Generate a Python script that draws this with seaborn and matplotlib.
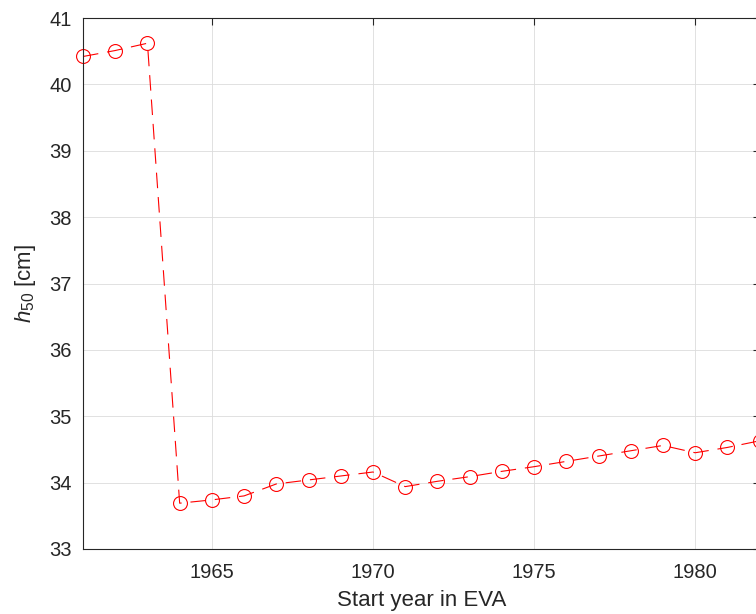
import matplotlib
matplotlib.use('Agg')
import matplotlib.pyplot as plt
import seaborn as sns
import pandas as pd

# Values
years = list(range(1961, 1983))
h50 = [40.42, 40.51, 40.62, 33.69, 33.74, 33.80, 33.98, 34.04, 34.10, 34.16,
       33.94, 34.02, 34.09, 34.17, 34.24, 34.32, 34.40, 34.48, 34.56, 34.45,
       34.53, 34.63]
x_ticks = [1965, 1970, 1975, 1980]
y_ticks = list(range(33, 42))

df = pd.DataFrame({'year': years, 'h50': h50})

sns.set_style('white')
plt.rcParams['font.family'] = ['Liberation Sans', 'DejaVu Sans']
plt.rcParams['mathtext.fontset'] = 'custom'
plt.rcParams['mathtext.rm'] = 'Liberation Sans'
plt.rcParams['mathtext.it'] = 'Liberation Sans:italic'

fig = plt.figure(figsize=(7.56, 6.14), dpi=100)
ax = fig.add_axes([83 / 756, 65 / 614, (759.6 - 83) / 756, (549 - 18) / 614])

sns.lineplot(data=df, x='year', y='h50', ax=ax, color='red', marker='o',
             markersize=10, markerfacecolor='none', markeredgecolor='red',
             markeredgewidth=0.8, linewidth=0.8, linestyle='--', clip_on=False)
ax.lines[0].set_dashes([14, 8])

ax.set_xlim(1961, 1982)
ax.set_ylim(33, 41)
ax.set_xticks(x_ticks)
ax.set_yticks(y_ticks)
ax.grid(True, color='#dcdcdc', linewidth=0.6)
ax.set_axisbelow(True)

for s in ax.spines.values():
    s.set_visible(True)
    s.set_color('#262626')
    s.set_linewidth(0.8)
ax.tick_params(direction='in', length=5, width=0.8, colors='#262626',
               labelsize=14.5, top=True, right=True, labelcolor='#262626')
ax.tick_params(axis='x', pad=10)
ax.tick_params(axis='y', pad=8)

ax.set_xlabel('Start year in EVA', fontsize=16, color='#262626', labelpad=6)
ax.set_ylabel(r'$h_{50}$ [cm]', fontsize=16, color='#262626', labelpad=8)

fig.savefig('out.png', dpi=100)
